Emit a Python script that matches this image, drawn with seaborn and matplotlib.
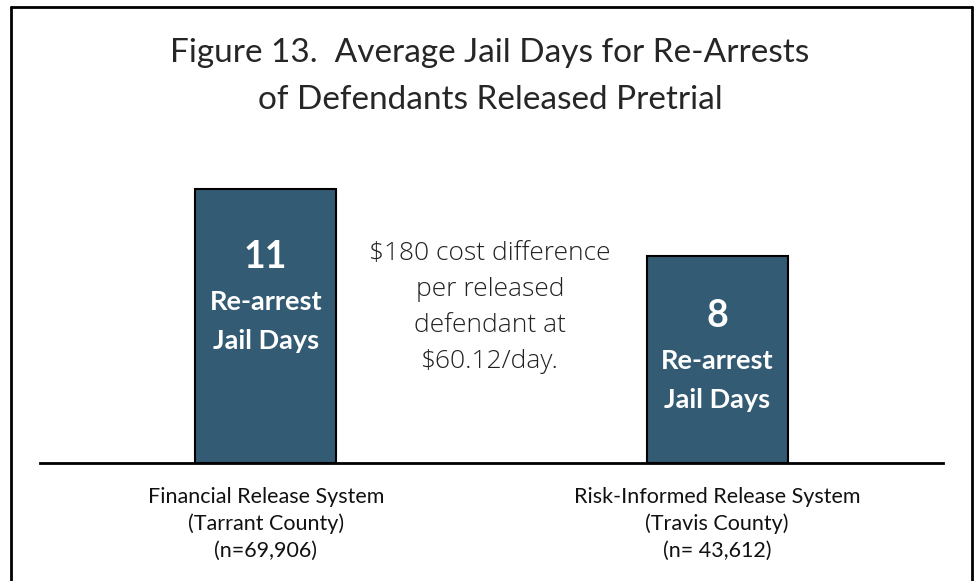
import pandas as pd
import numpy as np
import seaborn as sns
import matplotlib.pyplot as plt
from matplotlib.lines import Line2D

systems = ['Financial Release System\n(Tarrant County)\n(n=69,906)',
           'Risk-Informed Release System\n(Travis County)\n(n= 43,612)']
jail_days = [11.0, 8.3]
note_lines = ['$180 cost difference', 'per released', 'defendant at', '$60.12/day.']

df = pd.DataFrame({'system': systems, 'days': jail_days})

sns.set_style('white')
plt.rcParams['font.family'] = ['Lato', 'DejaVu Sans']

W, H = 979, 581
PX = 24.92  # pixels per jail day
fig = plt.figure(figsize=(W / 100, H / 100), dpi=100)
# axes: baseline at y=463px, spans x 40..943
ax = fig.add_axes([40 / W, (H - 463) / H, 903 / W, 12 * PX / H])

sns.barplot(data=df, x='system', y='days', color='#335B74', width=0.312,
            edgecolor='black', linewidth=1.5, saturation=1, ax=ax)

ax.set_xlim(-0.5, 1.5)
ax.set_ylim(0, 12)
ax.set_xlabel('')
ax.set_ylabel('')
ax.set_yticks([])
ax.tick_params(axis='x', length=0, pad=17, labelsize=15.5)
for lbl in ax.get_xticklabels():
    lbl.set_linespacing(1.42)
    lbl.set_color('#111111')
for s in ['top', 'left', 'right']:
    ax.spines[s].set_visible(False)
ax.spines['bottom'].set_linewidth(2)
ax.spines['bottom'].set_color('black')

for i, v in enumerate(jail_days):
    y_num = 0.88 * v - 1.4
    ax.text(i, y_num, f'{v:.0f}', ha='center', va='center', color='white',
            fontsize=27, fontweight='bold')
    ax.text(i, y_num - 45 / PX, 'Re-arrest', ha='center', va='center',
            color='white', fontsize=19.5, fontweight='bold')
    ax.text(i, y_num - 84 / PX, 'Jail Days', ha='center', va='center',
            color='white', fontsize=19.5, fontweight='bold')

for k, line in enumerate(note_lines):
    ax.text(0.497, (463 - 253 - 36 * k) / PX, line, ha='center', va='center',
            fontsize=19, color='#222222', fontweight='light',
            family=['Open Sans', 'DejaVu Sans'])

fig.text(490 / W, 1 - 53 / H, 'Figure 13.  Average Jail Days for Re-Arrests',
         ha='center', va='center', fontsize=24)
fig.text(490 / W, 1 - 100 / H, 'of Defendants Released Pretrial',
         ha='center', va='center', fontsize=24)

# outer frame (bottom edge falls outside the image)
for xs, ys in [([11, 972], [7, 7]), ([11, 11], [7, H + 5]), ([972, 972], [7, H + 5])]:
    fig.add_artist(Line2D([x / W for x in xs], [1 - y / H for y in ys],
                          color='black', linewidth=2))

plt.savefig('out.png', dpi=100)
plt.close()
